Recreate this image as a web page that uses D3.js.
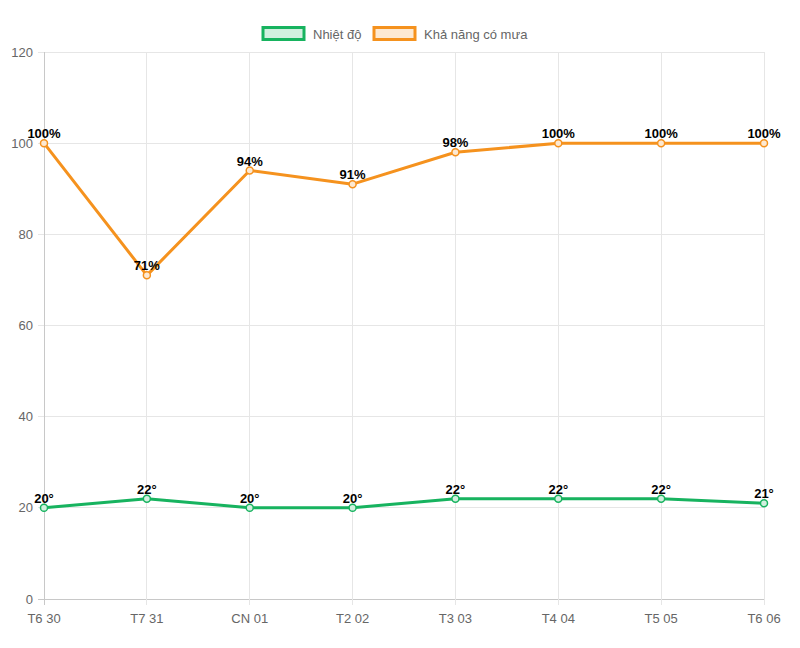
<!DOCTYPE html>
<html><head><meta charset="utf-8">
<script src="https://cdn.jsdelivr.net/npm/d3@7"></script>
<style>body{margin:0;background:#fff;}svg{display:block;font-family:"Helvetica Neue",Arial,"Liberation Sans",sans-serif;}</style>
</head><body>
<svg id="c" width="800" height="648"></svg>
<script>
const categories = ["T6 30","T7 31","CN 01","T2 02","T3 03","T4 04","T5 05","T6 06"];
const temperature = [20,22,20,20,22,22,22,21];
const rainChance = [100,71,94,91,98,100,100,100];
const yTicks = [0,20,40,60,80,100,120];
const seriesNames = ["Nhiệt độ","Khả năng có mưa"];

const green = "#17b35f", greenFill = "rgba(23,179,95,0.2)";
const orange = "#f5921e", orangeFill = "rgba(245,146,30,0.2)";

const svg = d3.select("#c");
const pL = 44, pR = 764, pT = 52, pB = 599;
const x = d3.scalePoint().domain(categories).range([pL, pR]);
const y = d3.scaleLinear().domain([0,120]).range([pB, pT]);

// grid
const g = svg.append("g");
g.selectAll("line.h").data(yTicks).join("line")
  .attr("x1", pL-6).attr("x2", pR).attr("y1", d=>y(d)).attr("y2", d=>y(d))
  .attr("stroke", d=> d===0 ? "#c8c8c8" : "#e6e6e6").attr("stroke-width",1).attr("shape-rendering","crispEdges");
g.selectAll("line.v").data(categories).join("line")
  .attr("x1", d=>x(d)).attr("x2", d=>x(d)).attr("y1", pT).attr("y2", pB+6)
  .attr("stroke", (d,i)=> i===0 ? "#c8c8c8" : "#e6e6e6").attr("stroke-width",1).attr("shape-rendering","crispEdges");

// y labels
g.selectAll("text.yl").data(yTicks).join("text")
  .attr("x", pL-11).attr("y", d=>y(d)).attr("dy","0.35em").attr("text-anchor","end")
  .attr("fill","#666").attr("font-size",13).text(d=>d);
// x labels
g.selectAll("text.xl").data(categories).join("text")
  .attr("x", d=>x(d)).attr("y", pB+24).attr("text-anchor","middle")
  .attr("fill","#666").attr("font-size",13).text(d=>d);

function series(vals, color, fill, suffix){
  const line = d3.line().x((d,i)=>x(categories[i])).y(d=>y(d));
  svg.append("path").datum(vals).attr("d", line).attr("fill","none")
    .attr("stroke", color).attr("stroke-width",3).attr("stroke-linejoin","round");
  svg.append("g").selectAll("circle").data(vals).join("circle")
    .attr("cx",(d,i)=>x(categories[i])).attr("cy", d=>y(d)).attr("r",3.5)
    .attr("fill", "#fff").attr("stroke", color).attr("stroke-width",1.5);
  svg.append("g").selectAll("circle").data(vals).join("circle")
    .attr("cx",(d,i)=>x(categories[i])).attr("cy", d=>y(d)).attr("r",3)
    .attr("fill", fill);
  svg.append("g").selectAll("text").data(vals).join("text")
    .attr("x",(d,i)=>x(categories[i])).attr("y", d=>y(d)-5).attr("text-anchor","middle")
    .attr("font-size",13).attr("font-weight","bold").attr("fill","#000")
    .text(d=>d+suffix);
}
series(rainChance, orange, orangeFill, "%");
series(temperature, green, greenFill, "°");

// legend
const leg = svg.append("g");
const items = [{n:seriesNames[0], c:green, f:greenFill, x:263},{n:seriesNames[1], c:orange, f:orangeFill, x:374}];
items.forEach(it=>{
  leg.append("rect").attr("x",it.x).attr("y",27.5).attr("width",41).attr("height",12)
    .attr("fill",it.f).attr("stroke",it.c).attr("stroke-width",3);
  leg.append("text").attr("x",it.x+50).attr("y",34).attr("dy","0.35em")
    .attr("fill","#666").attr("font-size",13).text(it.n);
});
</script>
</body></html>
